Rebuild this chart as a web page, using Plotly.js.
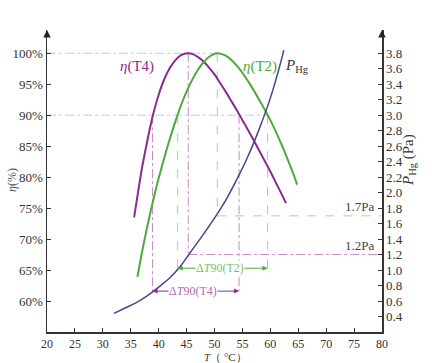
<!DOCTYPE html>
<html>
<head>
<meta charset="utf-8">
<script src="https://cdn.plot.ly/plotly-3.0.1.min.js"></script>
<style>html,body{margin:0;padding:0;background:#fff;}#chart{width:435px;height:363px;}</style>
</head>
<body>
<div id="chart"></div>
<script>
// ---- data ----
const t4Temp = [35.6, 36, 37, 38, 39, 40, 41, 42, 43, 44, 45.3, 46, 47, 48, 49, 50, 51, 52, 53, 54, 55, 56, 57, 58, 59, 60, 61, 62, 62.8];
const t4Eff  = [73.5, 75.8, 81.4, 86.0, 90.1, 93.3, 95.8, 97.6, 98.9, 99.7, 100, 99.9, 99.4, 98.7, 97.7, 96.6, 95.2, 93.8, 92.3, 90.8, 89.2, 87.6, 86.0, 84.3, 82.6, 80.9, 79.1, 77.3, 75.8];
const t2Temp = [36.2, 37, 38, 39, 40, 41, 42, 43, 44, 45, 46, 47, 48, 49, 50.5, 52, 54, 56, 58, 60, 62, 64, 64.8];
const t2Eff  = [63.9, 67.8, 72.2, 76.2, 79.8, 83.1, 86.2, 89.0, 91.6, 93.8, 95.7, 97.3, 98.5, 99.4, 100, 99.6, 98.0, 95.5, 92.5, 89.2, 85.3, 80.8, 78.8];
const pTemp  = [32, 34, 36, 38, 40, 42, 44, 46, 48, 50, 52, 54, 56, 58, 60, 62, 62.4];
const pHg    = [0.44, 0.51, 0.58, 0.67, 0.78, 0.90, 1.06, 1.26, 1.46, 1.67, 1.90, 2.17, 2.47, 2.82, 3.22, 3.72, 3.84];
const t4Band = [38.9, 54.4];   // ΔT90(T4)
const t2Band = [43.4, 59.5];   // ΔT90(T2)
const t4Peak = 45.3, t2Peak = 50.5;
const pLevels = [1.2, 1.7];    // Pa at the peaks (T4, T2)
const t4ArrowY = 61.6, t2ArrowY = 65.3;
const effTicks = [60, 65, 70, 75, 80, 85, 90, 95, 100];
const effTickText = effTicks.map(v => v + '%');
const pTicks = [0.4,0.6,0.8,1.0,1.2,1.4,1.6,1.8,2.0,2.2,2.4,2.6,2.8,3.0,3.2,3.4,3.6,3.8];
const tTicks = [20,25,30,35,40,45,50,55,60,65,70,75,80];

// ---- styles ----
const PURPLE = '#8b2b8e', GREEN = '#4fa83a', PLINE = '#4b4389';
const LPURPLE = '#c98ac9', LGREEN = '#a6d68f', LBLUE = '#a9d6ea';
const FONT = 'Liberation Serif, Times New Roman, serif';
const effLo = 55, effHi = 103.75;
const pFromEff = e => 0.6 + (e - 60) * 0.08;
const effFromP = p => 60 + (p - 0.6) / 0.08;

const traces = [
  {x: t4Temp, y: t4Eff, mode: 'lines', line: {color: PURPLE, width: 2, shape: 'spline', smoothing: 1}, yaxis: 'y', hoverinfo: 'skip'},
  {x: t2Temp, y: t2Eff, mode: 'lines', line: {color: GREEN, width: 2, shape: 'spline', smoothing: 1}, yaxis: 'y', hoverinfo: 'skip'},
  {x: pTemp, y: pHg, mode: 'lines', line: {color: PLINE, width: 1.5, shape: 'spline', smoothing: 1}, yaxis: 'y2', hoverinfo: 'skip'}
];

const ln = (x0, y0, x1, y1, color, dash) => ({type: 'line', xref: 'x', yref: 'y', x0, y0, x1, y1, line: {color, width: 1, dash}, layer: 'below'});
const shapes = [
  ln(20, 100, t2Peak, 100, LBLUE, 'dashdot'),
  ln(20, 90, t2Band[1], 90, LBLUE, 'dashdot'),
  ln(t4Band[0], 90, t4Band[0], t4ArrowY, LPURPLE, 'dashdot'),
  ln(t4Band[1], 90, t4Band[1], t4ArrowY, LPURPLE, 'dashdot'),
  ln(t4Peak, 100, t4Peak, effFromP(pLevels[0]), LPURPLE, 'dashdot'),
  ln(t4Peak, effFromP(pLevels[0]), 80, effFromP(pLevels[0]), LPURPLE, 'dashdot'),
  ln(t2Band[0], 90, t2Band[0], t2ArrowY, LGREEN, 'dash'),
  ln(t2Band[1], 90, t2Band[1], t2ArrowY, LGREEN, 'dash'),
  ln(t2Peak, 100, t2Peak, effFromP(pLevels[1]), LGREEN, 'dash'),
  ln(t2Peak, effFromP(pLevels[1]), 80, effFromP(pLevels[1]), LGREEN, 'dash')
];

const arrow = (xEnd, xMid, y, color) => ({x: xEnd, y, ax: xMid, ay: y, xref: 'x', yref: 'y', axref: 'x', ayref: 'y', text: '', showarrow: true, arrowhead: 2, arrowsize: 1, arrowwidth: 1, arrowcolor: color});
const t4Mid = (t4Band[0] + t4Band[1]) / 2, t2Mid = (t2Band[0] + t2Band[1]) / 2;
const annotations = [
  arrow(t4Band[0], t4Mid, t4ArrowY, PURPLE),
  arrow(t4Band[1], t4Mid, t4ArrowY, PURPLE),
  arrow(t2Band[0], t2Mid, t2ArrowY, GREEN),
  arrow(t2Band[1], t2Mid, t2ArrowY, GREEN),
  {x: t4Mid - 0.5, y: t4ArrowY, xref: 'x', yref: 'y', text: 'Δ<i>T</i>90(T4)', showarrow: false, bgcolor: '#fff', borderpad: 0, font: {family: FONT, size: 12, color: '#b06ab0'}},
  {x: t2Mid - 0.5, y: t2ArrowY, xref: 'x', yref: 'y', text: 'Δ<i>T</i>90(T2)', showarrow: false, bgcolor: '#fff', borderpad: 0, font: {family: FONT, size: 12, color: '#7cbf66'}},
  {x: 36.2, y: 97.9, xref: 'x', yref: 'y', text: '<i>η</i>(T4)', showarrow: false, font: {family: FONT, size: 15, color: PURPLE}},
  {x: 58.2, y: 97.9, xref: 'x', yref: 'y', text: '<i>η</i>(T2)', showarrow: false, font: {family: FONT, size: 15, color: GREEN}},
  {x: 62.3, y: 97.9, xref: 'x', yref: 'y', xanchor: 'left', text: '<i>P</i><sub>Hg</sub>', showarrow: false, font: {family: FONT, size: 15, color: '#333'}},
  {x: 79, y: pLevels[1], xref: 'x', yref: 'y2', xanchor: 'right', yanchor: 'bottom', text: '1.7Pa', showarrow: false, font: {family: FONT, size: 13, color: '#444'}},
  {x: 79, y: pLevels[0], xref: 'x', yref: 'y2', xanchor: 'right', yanchor: 'bottom', text: '1.2Pa', showarrow: false, font: {family: FONT, size: 13, color: '#444'}},
  {x: 20, y: effHi, xref: 'x', yref: 'y', ax: 0, ay: 8, text: '', showarrow: true, arrowhead: 2, arrowsize: 1, arrowwidth: 1.5, arrowcolor: '#222'},
  {x: 80, y: effHi, xref: 'x', yref: 'y', ax: 0, ay: 8, text: '', showarrow: true, arrowhead: 2, arrowsize: 1, arrowwidth: 1.5, arrowcolor: '#222'},
  {x: (3 - 47) / 335, y: (332 - 180) / 302, xref: 'paper', yref: 'paper', text: '<i>η</i>(%)', textangle: -90, showarrow: false, font: {family: FONT, size: 12, color: '#555'}},
  {x: (420 - 47) / 335, y: (332 - 160) / 302, xref: 'paper', yref: 'paper', text: '<i>P</i><sub>Hg</sub> (Pa)', textangle: -90, showarrow: false, font: {family: FONT, size: 15, color: '#333'}},
  {x: 52, y: -24.5 / 302, xref: 'x', yref: 'paper', yanchor: 'middle', text: '<i>T</i>（ °C）', showarrow: false, font: {family: FONT, size: 11, color: '#333'}}
];

const axisCommon = {
  showgrid: false, zeroline: false, showline: true, linecolor: '#333', linewidth: 1.5,
  ticks: 'inside', ticklen: 4, tickcolor: '#333', tickwidth: 1,
  tickfont: {family: FONT, size: 13, color: '#333'}
};

const layout = {
  width: 435, height: 363,
  margin: {l: 47, r: 53, t: 30, b: 31},
  paper_bgcolor: '#fff', plot_bgcolor: '#fff',
  showlegend: false,
  xaxis: Object.assign({}, axisCommon, {range: [20, 80], tickvals: tTicks, ticklabelstandoff: 0, tickfont: {family: FONT, size: 12, color: '#333'}}),
  yaxis: Object.assign({}, axisCommon, {range: [effLo, effHi], tickvals: effTicks, ticktext: effTickText}),
  yaxis2: Object.assign({}, axisCommon, {overlaying: 'y', side: 'right', range: [pFromEff(effLo), pFromEff(effHi)], tickvals: pTicks, tickformat: '.1f'}),
  shapes, annotations
};

Plotly.newPlot('chart', traces, layout, {displayModeBar: false, staticPlot: true});
</script>
</body>
</html>
